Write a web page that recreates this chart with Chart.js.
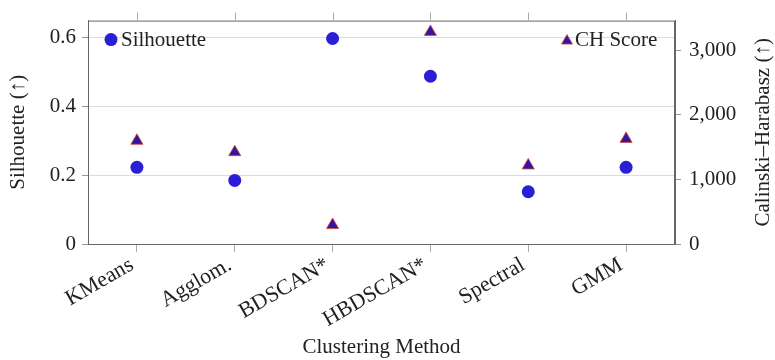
<!DOCTYPE html>
<html>
<head>
<meta charset="utf-8">
<script src="https://cdn.jsdelivr.net/npm/chart.js@4/dist/chart.umd.min.js"></script>
<style>
  html, body { margin: 0; padding: 0; background: #fff; }
  #wrap { width: 775px; height: 360px; }
</style>
</head>
<body>
<div id="wrap"><canvas id="chart" width="775" height="360"></canvas></div>
<script>
const methods = ["KMeans", "Agglom.", "BDSCAN*", "HBDSCAN*", "Spectral", "GMM"];
const silhouette = [0.223, 0.185, 0.598, 0.488, 0.152, 0.223];
const chScore = [1596, 1420, 293, 3280, 1215, 1625];
const silTicks = [0, 0.2, 0.4, 0.6];
const chTicks = [0, 1000, 2000, 3000];

const FONT = "'Liberation Serif', 'Times New Roman', serif";
const TEXT = "#222";
const circleColor = "#2a1fd4";
const triFill = "#34169e";
const triEdge = "#d8473a";

// box outline plus outward ticks along the top edge
const framePlugin = {
  id: "frame",
  afterDraw(chart) {
    const { ctx, chartArea: a, scales } = chart;
    ctx.save();
    ctx.strokeStyle = "#666";
    ctx.lineWidth = 1;
    ctx.strokeRect(a.left + 0.5, a.top + 0.5, a.right - a.left - 1, a.bottom - a.top);
    ctx.strokeStyle = "#aaa";
    methods.forEach((m, i) => {
      const x = Math.round(scales.x.getPixelForValue(i)) + 0.5;
      ctx.beginPath();
      ctx.moveTo(x, a.top);
      ctx.lineTo(x, a.top - 8);
      ctx.stroke();
    });
    ctx.restore();
  }
};

// right axis title, read bottom to top like the left one
const rightTitlePlugin = {
  id: "rightTitle",
  afterDraw(chart) {
    const { ctx, chartArea: a } = chart;
    ctx.save();
    ctx.translate(chart.width - 12, (a.top + a.bottom) / 2);
    ctx.rotate(-Math.PI / 2);
    ctx.font = "21px " + FONT;
    ctx.fillStyle = TEXT;
    ctx.textAlign = "center";
    ctx.textBaseline = "middle";
    ctx.fillText("Calinski\u2013Harabasz (\u2191)", 0, 0);
    ctx.restore();
  }
};

// two separate legend entries inside the plot corners
const legendPlugin = {
  id: "cornerLegend",
  afterDatasetsDraw(chart) {
    const { ctx, chartArea: a } = chart;
    const y = a.top + 19;
    ctx.save();
    ctx.font = "21px " + FONT;
    ctx.textBaseline = "middle";
    ctx.fillStyle = circleColor;
    ctx.beginPath();
    ctx.arc(a.left + 23, y, 6.5, 0, Math.PI * 2);
    ctx.fill();
    ctx.fillStyle = TEXT;
    ctx.fillText("Silhouette", a.left + 33, y + 1);

    const tx = a.right - 108;
    ctx.beginPath();
    ctx.moveTo(tx, y - 5);
    ctx.lineTo(tx + 5.5, y + 4.5);
    ctx.lineTo(tx - 5.5, y + 4.5);
    ctx.closePath();
    ctx.fillStyle = triFill;
    ctx.fill();
    ctx.strokeStyle = triEdge;
    ctx.lineWidth = 0.8;
    ctx.stroke();
    ctx.fillStyle = TEXT;
    ctx.fillText("CH Score", tx + 8, y + 1);
    ctx.restore();
  }
};

new Chart(document.getElementById("chart"), {
  type: "line",
  data: {
    labels: methods,
    datasets: [
      {
        label: "Silhouette",
        data: silhouette,
        yAxisID: "y",
        showLine: false,
        pointStyle: "circle",
        pointRadius: 6.5,
        pointBackgroundColor: circleColor,
        pointBorderColor: circleColor,
        pointBorderWidth: 0
      },
      {
        label: "CH Score",
        data: chScore,
        yAxisID: "y1",
        showLine: false,
        pointStyle: "triangle",
        pointRadius: 7,
        pointBackgroundColor: triFill,
        pointBorderColor: triEdge,
        pointBorderWidth: 0.8
      }
    ]
  },
  options: {
    responsive: false,
    animation: false,
    layout: { padding: { top: 8, left: 0, right: 0, bottom: 0 } },
    plugins: {
      legend: { display: false },
      tooltip: { enabled: false }
    },
    scales: {
      x: {
        offset: true,
        grid: { display: true, drawOnChartArea: false, drawTicks: true, tickLength: 8, color: "#aaa" },
        border: { color: "#666" },
        ticks: {
          minRotation: 30,
          maxRotation: 30,
          padding: 0,
          labelOffset: -5,
          color: TEXT,
          font: { family: FONT, size: 22 }
        },
        title: {
          display: true,
          text: "Clustering Method",
          color: TEXT,
          font: { family: FONT, size: 21 },
          padding: { top: 12, bottom: 0 }
        },
        afterFit(scale) { scale.height = 116; }
      },
      y: {
        position: "left",
        min: 0,
        max: 0.65,
        afterBuildTicks(scale) { scale.ticks = silTicks.map((v) => ({ value: v })); },
        grid: { color: "#dcdcdc", tickColor: "#999", tickLength: 6 },
        border: { color: "#666" },
        ticks: {
          padding: 6,
          color: TEXT,
          font: { family: FONT, size: 21 },
          callback: (v) => (v === 0 ? "0" : v.toFixed(1))
        },
        title: {
          display: true,
          text: "Silhouette (\u2191)",
          color: TEXT,
          font: { family: FONT, size: 21 },
          padding: { top: 6, bottom: 0 }
        },
        afterFit(scale) { scale.width = 88; }
      },
      y1: {
        position: "right",
        min: 0,
        max: 3455,
        afterBuildTicks(scale) { scale.ticks = chTicks.map((v) => ({ value: v })); },
        grid: { drawOnChartArea: false, tickColor: "#999", tickLength: 6 },
        border: { color: "#666" },
        ticks: {
          padding: 8,
          color: TEXT,
          font: { family: FONT, size: 21 },
          callback: (v) => v.toLocaleString("en-US")
        },
        afterFit(scale) { scale.width = 100; }
      }
    }
  },
  plugins: [framePlugin, rightTitlePlugin, legendPlugin]
});
</script>
</body>
</html>
